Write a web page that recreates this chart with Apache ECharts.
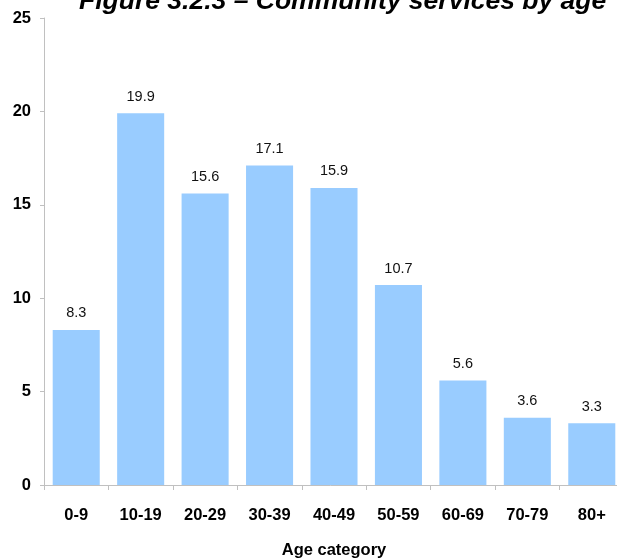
<!DOCTYPE html>
<html><head><meta charset="utf-8">
<script src="https://cdn.jsdelivr.net/npm/echarts@6/dist/echarts.min.js"></script>
<style>html,body{margin:0;padding:0;background:#fff}#c{width:617px;height:559px}</style>
</head><body><div id="c"></div>
<script>
const categories = ['0-9','10-19','20-29','30-39','40-49','50-59','60-69','70-79','80+'];
const values = [8.3, 19.9, 15.6, 17.1, 15.9, 10.7, 5.6, 3.6, 3.3];
const yTicks = [0, 5, 10, 15, 20, 25];
const titleText = 'Figure 3.2.3 \u2013 Community services by age';
const xName = 'Age category';

const font = "'Liberation Sans', Arial, sans-serif";
const chart = echarts.init(document.getElementById('c'), null, {renderer: 'canvas'});
chart.setOption({
  animation: false,
  title: {
    text: titleText, left: 79, top: -12, padding: 0,
    textStyle: {fontFamily: font, fontSize: 26.5, fontWeight: 'bold', fontStyle: 'italic', color: '#000'}
  },
  grid: {left: 44, top: 18, width: 580, height: 467, containLabel: false, outerBoundsMode: 'none'},
  xAxis: {
    type: 'category', data: categories,
    name: xName, nameLocation: 'middle', nameGap: 57,
    nameTextStyle: {fontFamily: font, fontSize: 16.5, fontWeight: 'bold', color: '#000'},
    axisLine: {lineStyle: {color: '#c0c0c0', width: 1}},
    axisTick: {show: true, length: 5, lineStyle: {color: '#c0c0c0'}},
    axisLabel: {fontFamily: font, fontSize: 16.5, fontWeight: 'bold', color: '#000', margin: 22}
  },
  yAxis: {
    type: 'value', min: yTicks[0], max: yTicks[yTicks.length-1], interval: 5,
    axisLine: {show: true, lineStyle: {color: '#c0c0c0', width: 1}},
    axisTick: {show: true, length: 4, lineStyle: {color: '#c0c0c0'}},
    splitLine: {show: false},
    axisLabel: {fontFamily: font, fontSize: 16.5, fontWeight: 'bold', color: '#000', margin: 13}
  },
  series: [{
    type: 'bar', data: values, barCategoryGap: '27%',
    itemStyle: {color: '#99ccff'},
    label: {show: true, position: 'top', distance: 9, formatter: p => p.value.toFixed(1),
      fontFamily: font, fontSize: 14.5, color: '#111'}
  }]
});
</script></body></html>
